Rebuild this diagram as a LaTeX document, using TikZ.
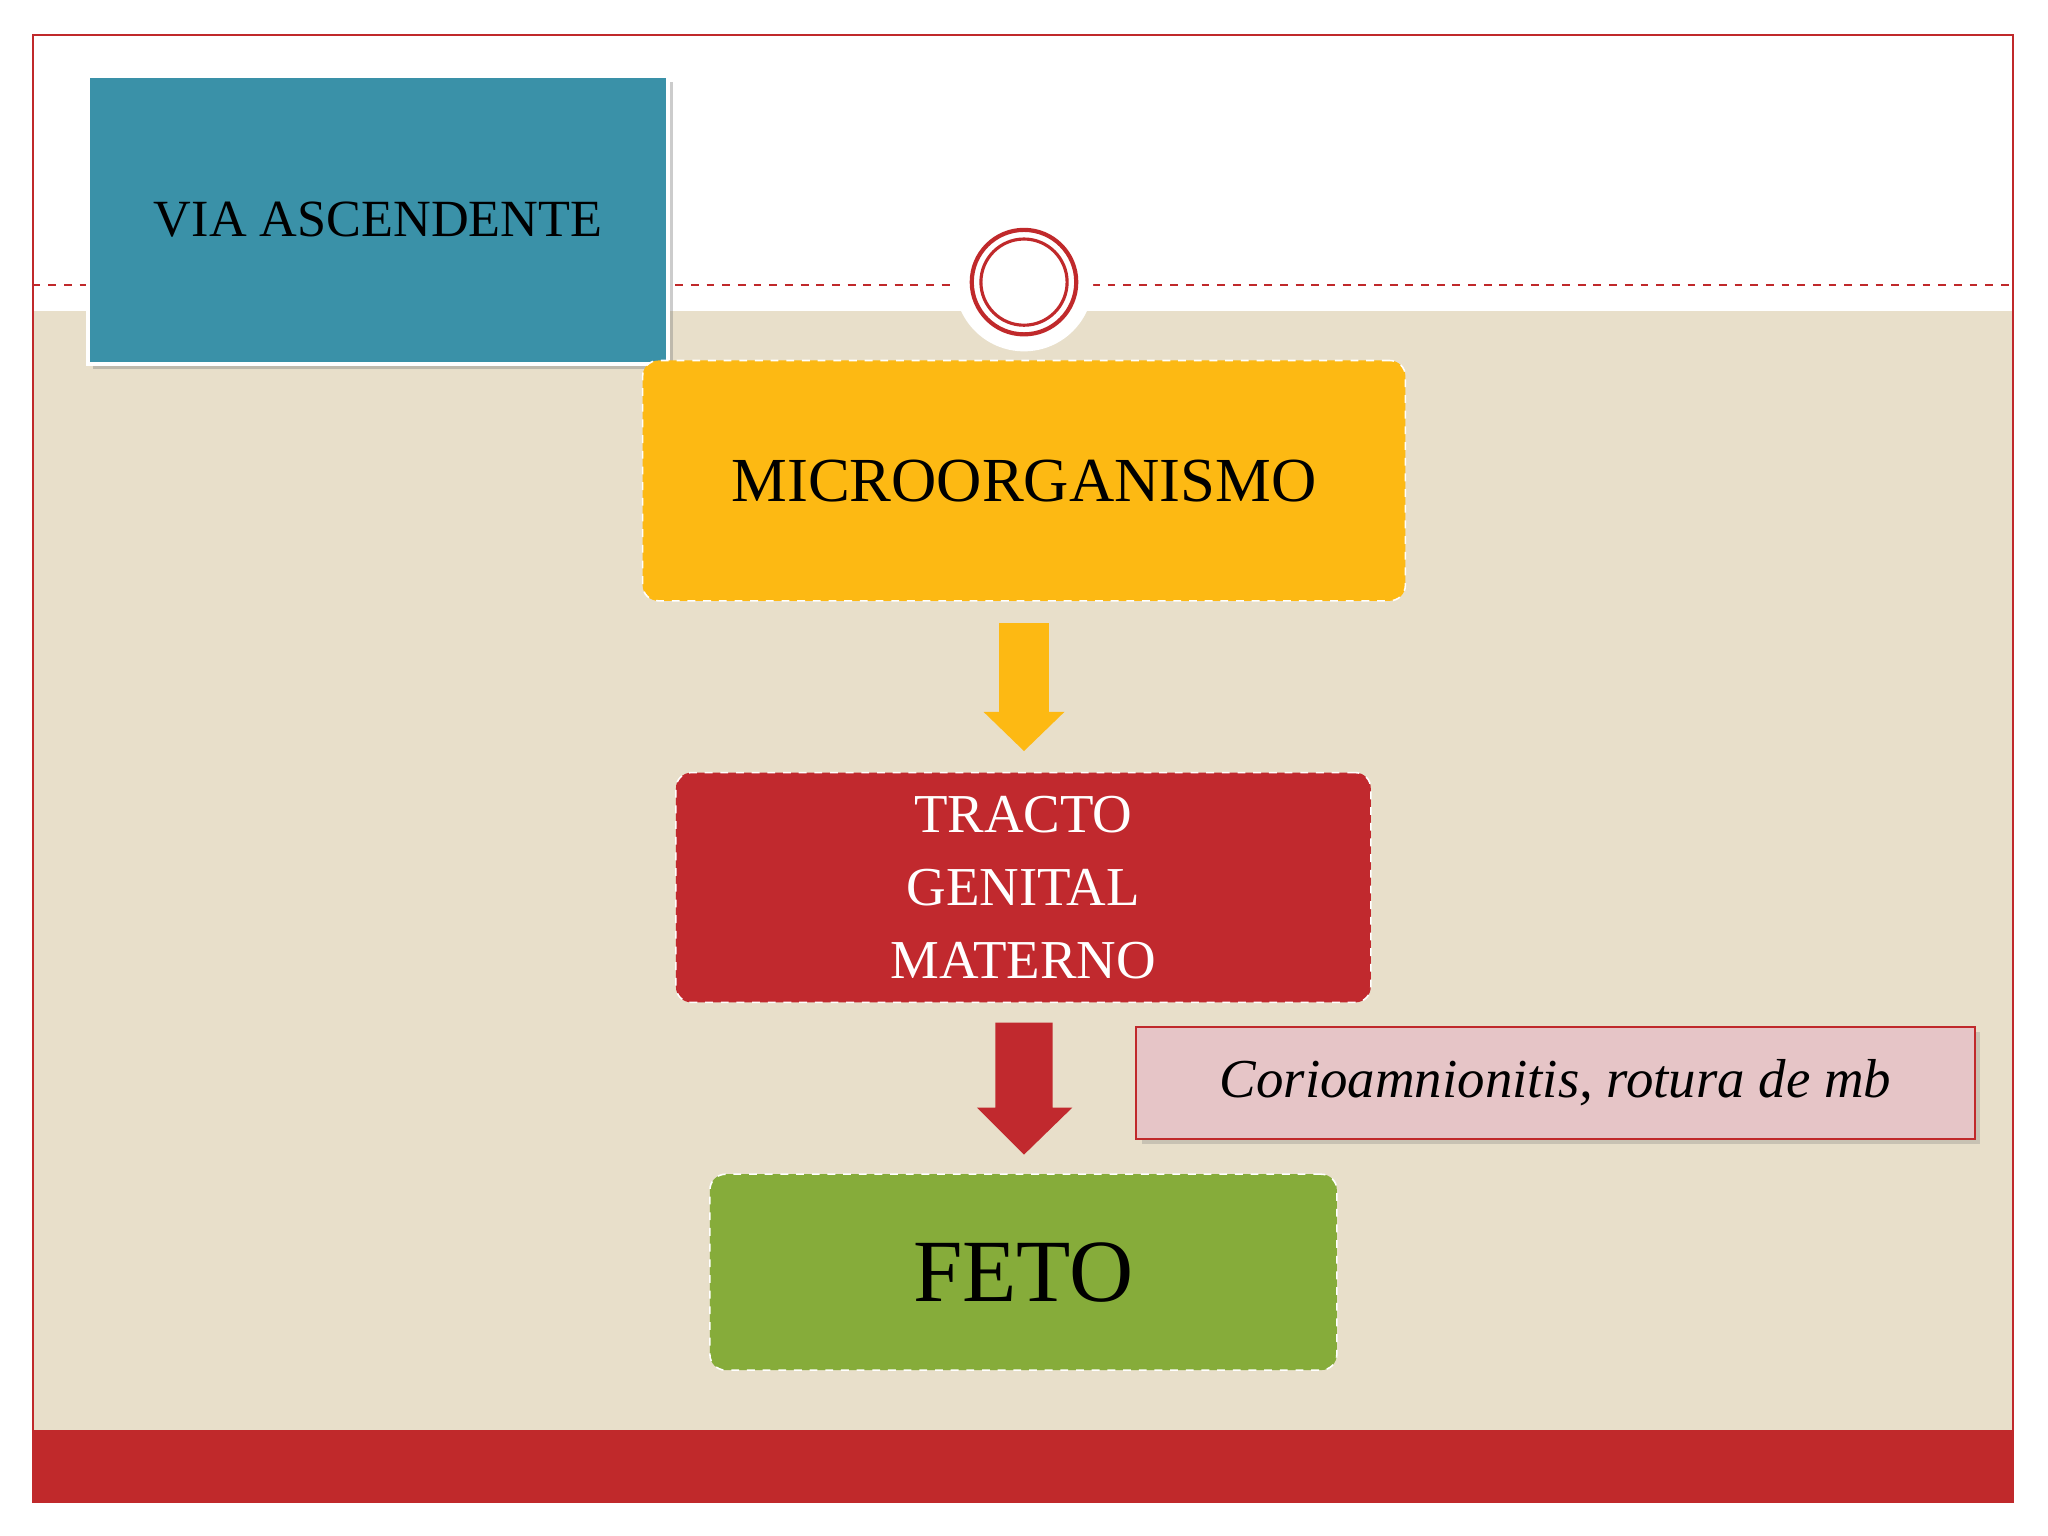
\documentclass[tikz,border=0pt]{standalone}
\usepackage{fontspec}
\setmainfont{Liberation Serif}
\usetikzlibrary{shadows}
\definecolor{beige}{HTML}{E8DFCA}
\definecolor{band}{HTML}{C0292B}
\definecolor{bluebox}{HTML}{3A91A8}
\definecolor{yel}{HTML}{FDB913}
\definecolor{redbox}{HTML}{C1292E}
\definecolor{pink}{HTML}{E6C5C7}
\definecolor{green}{HTML}{86AC3A}
\tikzset{
  flowbox/.style={rounded corners=6pt, draw=white, dashed, line width=0.6pt},
  arrowshape/.style={draw=none}
}
\begin{document}
\begin{tikzpicture}[x=0.5pt,y=-0.5pt]
\useasboundingbox (0,0) rectangle (1568,1176);
\fill[white] (0,0) rectangle (1568,1176);
\fill[beige] (25,238) rectangle (1541,1095);
\fill[band] (25,1095) rectangle (1541,1150);
\draw[band, line width=0.8pt] (25,27) rectangle (1541,1150);
\coordinate (dl) at (25,218);
\coordinate (dr) at (1541,218);
\coordinate (cl) at (730,218);
\coordinate (cr) at (836,218);
\draw[band, dashed, line width=0.7pt] (dl) -- (cl);
\draw[band, dashed, line width=0.7pt] (cr) -- (dr);
\fill[white] (784,216) circle (53);
\draw[band, line width=1.6pt] (784,216) circle (40);
\draw[band, line width=1.2pt] (784,216) circle (33);
% blue box
\node[draw=white, line width=1.5pt, fill=bluebox, drop shadow={opacity=0.4, shadow xshift=2pt, shadow yshift=-2pt},
  minimum width=222pt, minimum height=110pt, font=\fontsize{20}{24}\selectfont] (via) at (289.5,168.5) {VIA ASCENDENTE};
% yellow box
\node[flowbox, fill=yel, minimum width=292pt, minimum height=92pt, font=\fontsize{24}{28}\selectfont] (micro) at (784,368) {MICROORGANISMO};
% red box
\node[flowbox, fill=redbox, minimum width=266pt, minimum height=88pt, text=white, align=center,
  font=\fontsize{21}{28}\selectfont] (tracto) at (783.5,679.5) {TRACTO\\GENITAL\\MATERNO};
% green box
\node[flowbox, fill=green, minimum width=240pt, minimum height=75pt, font=\fontsize{34}{40}\selectfont] (feto) at (783.5,974) {FETO};
% pink box
\node[draw=band, line width=0.8pt, fill=pink, drop shadow={opacity=0.3, shadow xshift=2pt, shadow yshift=-2pt},
  minimum width=321pt, minimum height=43pt, font=\fontsize{21}{24}\selectfont\itshape] (corio) at (1191,829) {Corioamnionitis, rotura de mb};
% arrows
\fill[yel] (765,477) -- (803,477) -- (803,545) -- (815,545) -- (784,575) -- (753,545) -- (765,545) -- cycle;
\fill[redbox] (762,783) -- (806,783) -- (806,848) -- (821,848) -- (784,884) -- (748,848) -- (762,848) -- cycle;
\end{tikzpicture}
\end{document}
